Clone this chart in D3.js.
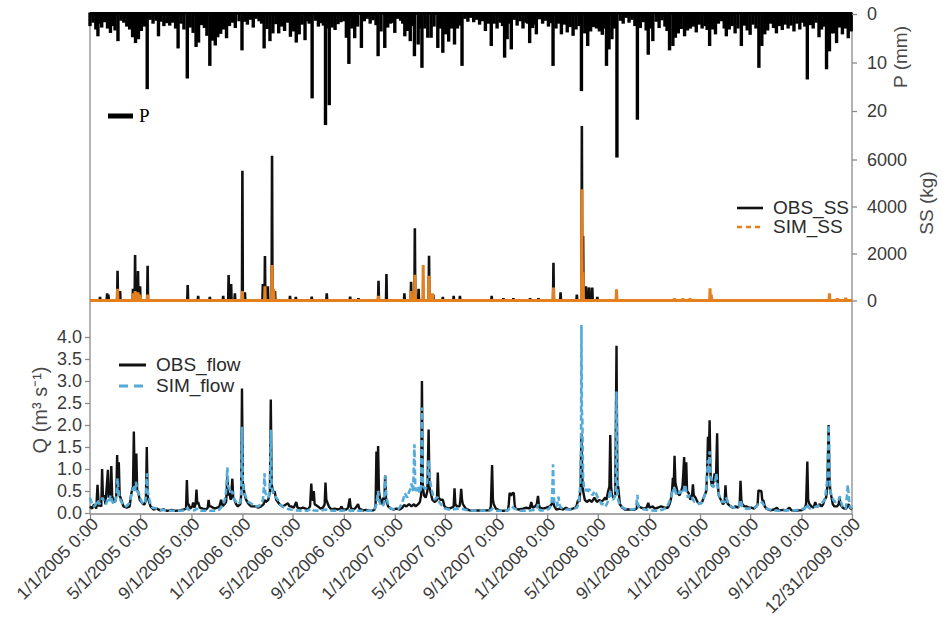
<!DOCTYPE html>
<html>
<head>
	<meta charset="UTF-8"/>
	<title>P, SS and flow 2005-2009</title>
	<style type="text/css">
		body {
		margin: 0;
		background: #fff;
		font-family: 'Liberation Sans', Arial, sans-serif;
		}

		svg {
		display: block;
		}

		.axis path {
		display: none;
		}

		.axis line, line.frame {
		stroke: #8a8a8a;
		stroke-width: 1.3;
		}

		.axis text {
		font-size: 18px;
		fill: #3a3a3a;
		}

		.axis.dates text {
		font-size: 17.5px;
		}

		text.title {
		font-size: 19px;
		fill: #4a4a4a;
		}

		text.legend {
		font-size: 19px;
		fill: #2a2a2a;
		}

		path.series {
		fill: none;
		stroke-linejoin: bevel;
		}
	</style>
	<script src="https://d3js.org/d3.v7.min.js"></script>
</head>
<body>

	<svg width="942" height="618"></svg>

	<script>
		// every series is [day since 1/1/2005, value]

		// rainfall P (mm), bars hanging from the top
		const rain = [[0,2.5],[7,1.8],[14,3.2],[19,4.6],[21,2.0],[28,2.8],[35,1.7],[42,3.0],[49,3.9],[56,2.5],[60,3.4],[67,5.6],[74,1.4],[81,1.8],[88,2.6],[95,3.2],[102,4.8],[109,6.0],[116,5.2],[123,3.5],[130,2.6],[137,15.5],[144,1.2],[151,2.0],[158,1.4],[164,4.6],[170,1.6],[177,2.5],[184,1.9],[191,2.4],[198,1.8],[205,3.0],[211,7.1],[218,2.0],[225,3.2],[233,13.3],[240,2.8],[247,3.9],[254,6.8],[260,5.9],[267,2.3],[274,2.9],[280,4.5],[287,10.7],[293,5.5],[300,6.5],[306,4.8],[313,4.1],[320,3.2],[327,5.0],[334,2.5],[341,1.8],[348,2.9],[357,1.5],[364,7.5],[370,1.6],[377,2.2],[384,1.2],[391,2.8],[398,1.0],[405,1.5],[411,2.0],[417,7.1],[424,3.1],[431,5.6],[438,4.0],[445,2.1],[452,4.0],[459,2.6],[466,3.5],[473,1.8],[480,4.7],[487,3.6],[494,5.9],[501,4.2],[508,2.2],[515,5.4],[520,1.5],[525,2.0],[532,17.4],[540,1.4],[547,2.6],[554,1.9],[559,2.4],[564,22.9],[568,3.0],[573,18.8],[580,2.8],[587,3.3],[594,2.1],[601,1.7],[608,1.5],[614,4.9],[620,10.3],[627,3.0],[634,5.0],[641,2.6],[650,7.0],[657,1.5],[664,1.0],[671,2.0],[678,1.3],[685,2.3],[690,8.7],[697,3.6],[706,7.0],[713,2.8],[720,2.0],[725,1.8],[730,3.9],[737,1.0],[744,1.4],[749,2.0],[754,4.6],[760,3.5],[767,5.6],[772,2.5],[777,8.7],[786,6.3],[790,3.0],[795,11.1],[802,3.0],[809,4.9],[817,4.9],[824,2.6],[833,7.0],[839,3.0],[845,8.0],[852,4.2],[859,5.7],[866,3.0],[873,6.3],[880,3.0],[886,2.4],[891,10.7],[898,1.0],[905,1.6],[912,0.8],[919,1.7],[926,1.2],[933,2.2],[940,1.5],[947,3.5],[954,2.0],[961,6.6],[968,2.0],[975,3.0],[982,1.8],[988,2.5],[993,9.0],[999,5.2],[1004,2.0],[1009,7.3],[1016,1.2],[1023,2.4],[1030,1.5],[1037,3.0],[1044,1.8],[1048,2.0],[1053,6.0],[1060,2.9],[1064,2.2],[1069,4.2],[1077,1.1],[1084,2.0],[1091,1.4],[1098,2.6],[1104,1.9],[1109,10.7],[1116,3.0],[1122,2.0],[1129,4.2],[1136,2.2],[1143,3.8],[1150,2.7],[1157,4.5],[1164,3.2],[1171,2.5],[1177,15.9],[1185,4.0],[1192,6.6],[1199,3.6],[1206,2.7],[1213,3.0],[1220,3.6],[1227,4.3],[1232,3.0],[1237,10.7],[1243,7.3],[1250,5.2],[1256,3.0],[1262,29.6],[1270,1.4],[1277,2.0],[1284,0.8],[1291,1.8],[1298,1.2],[1305,2.5],[1311,21.8],[1318,2.9],[1325,1.7],[1332,3.4],[1337,8.4],[1343,3.0],[1348,5.6],[1356,1.6],[1363,2.9],[1370,1.3],[1377,2.6],[1382,3.5],[1388,7.5],[1396,6.6],[1402,4.9],[1409,4.0],[1416,3.1],[1424,4.6],[1431,3.4],[1438,3.0],[1445,2.6],[1452,3.8],[1459,2.2],[1466,3.0],[1473,2.5],[1478,3.3],[1484,6.6],[1491,3.2],[1498,4.2],[1505,2.0],[1512,1.5],[1519,3.0],[1524,4.6],[1531,3.2],[1538,2.5],[1545,4.0],[1552,3.0],[1560,6.6],[1567,2.4],[1574,3.4],[1581,4.3],[1588,2.2],[1595,3.0],[1602,11.1],[1609,6.6],[1616,4.2],[1623,3.4],[1630,2.0],[1637,2.9],[1644,4.0],[1651,2.5],[1658,3.3],[1665,2.2],[1672,3.0],[1679,2.4],[1686,3.6],[1693,2.0],[1700,3.2],[1707,1.8],[1712,2.6],[1718,13.5],[1725,2.3],[1732,3.0],[1739,1.8],[1746,4.8],[1752,3.2],[1758,2.6],[1764,11.4],[1771,7.7],[1776,4.0],[1781,4.0],[1788,6.0],[1795,2.8],[1802,4.2],[1809,3.0],[1816,5.0],[1823,3.6]];

		// suspended sediment (kg)
		const obsSS = [[0,0],[23,0],[24,150],[25,0],[40,0],[41,300],[42,0],[44,250],[45,0],[65,0],[66,1270],[67,0],[71,0],[72,400],[73,0],[102,0],[103,500],[104,0],[107,0],[108,1940],[109,0],[114,0],[115,1250],[116,0],[119,0],[120,600],[121,0],[137,0],[138,1480],[139,0],[233,0],[234,660],[235,0],[258,0],[259,200],[260,0],[286,0],[287,150],[288,0],[318,0],[319,200],[320,0],[331,0],[332,1085],[333,0],[337,0],[338,700],[339,0],[346,0],[347,300],[348,0],[364,0],[365,5525],[366,0],[370,0],[371,350],[372,0],[413,0],[414,700],[415,0],[418,0],[419,1890],[420,0],[425,0],[426,600],[427,0],[435,0],[436,6160],[437,0],[442,0],[443,400],[444,0],[478,0],[479,200],[480,0],[492,0],[493,150],[494,0],[530,0],[531,160],[532,0],[566,0],[567,300],[568,0],[622,0],[623,160],[624,0],[642,0],[643,100],[644,0],[690,0],[691,840],[692,0],[709,0],[710,1130],[711,0],[752,0],[753,300],[754,0],[768,0],[769,800],[770,0],[777,0],[778,3070],[779,0],[786,0],[787,500],[788,0],[811,0],[812,1900],[813,0],[821,0],[822,250],[823,0],[844,0],[845,150],[846,0],[870,0],[871,200],[872,0],[885,0],[886,200],[887,0],[961,0],[962,200],[963,0],[989,0],[990,100],[991,0],[1013,0],[1014,100],[1015,0],[1053,0],[1054,100],[1055,0],[1073,0],[1074,100],[1075,0],[1109,0],[1110,1610],[1111,0],[1126,0],[1127,350],[1128,0],[1165,0],[1166,250],[1167,0],[1177,0],[1178,7430],[1179,0],[1180,0],[1181,2740],[1182,0],[1187,0],[1188,600],[1189,0],[1194,0],[1195,550],[1196,500],[1197,0],[1202,0],[1203,550],[1204,0],[1214,0],[1215,150],[1216,0],[1825,0]];
		const simSS = [[0,0],[65,0],[66,500],[67,0],[102,0],[103,300],[104,0],[107,0],[108,400],[109,0],[114,0],[115,350],[116,0],[119,0],[120,250],[121,0],[137,0],[138,250],[139,0],[364,0],[365,400],[366,0],[418,0],[419,600],[420,0],[435,0],[436,1510],[437,0],[439,0],[440,500],[441,0],[690,0],[691,200],[692,0],[768,0],[769,400],[770,0],[777,0],[778,1100],[779,0],[797,0],[798,1510],[799,0],[811,0],[812,1050],[813,0],[819,0],[820,300],[821,0],[1109,0],[1110,550],[1111,0],[1177,0],[1178,4730],[1179,0],[1180,0],[1181,1200],[1182,0],[1260,0],[1261,480],[1262,0],[1399,0],[1400,100],[1401,0],[1419,0],[1420,100],[1421,0],[1436,0],[1437,100],[1438,0],[1484,0],[1485,520],[1486,0],[1487,0],[1488,250],[1489,0],[1770,0],[1771,300],[1772,0],[1789,0],[1790,100],[1791,0],[1809,0],[1810,120],[1811,0],[1825,0]];

		// flow Q (m3/s)
		const obsFlow = [[0,0.15],[5,0.1],[10,0.2],[15,0.1],[18,0.64],[21,0.15],[23,0.2],[27,0.15],[29,1.0],[31,0.35],[34,0.4],[37,0.2],[43,0.98],[45,0.35],[47,0.5],[49,0.3],[51,1.07],[53,0.4],[55,0.3],[60,0.25],[63,0.4],[65,1.32],[67,0.6],[69,1.15],[71,0.4],[75,0.3],[80,0.15],[88,0.12],[95,0.15],[99,0.45],[103,0.6],[105,1.85],[107,0.7],[109,0.6],[111,1.35],[113,0.5],[115,0.5],[119,0.3],[123,0.25],[128,0.2],[131,0.2],[134,0.3],[136,1.5],[138,0.4],[140,0.3],[145,0.15],[152,0.08],[160,0.1],[168,0.06],[176,0.08],[185,0.05],[195,0.07],[205,0.05],[215,0.06],[225,0.08],[230,0.1],[232,0.75],[234,0.2],[236,0.2],[240,0.1],[245,0.15],[247,0.24],[250,0.12],[253,0.2],[255,0.53],[257,0.2],[259,0.25],[263,0.12],[270,0.1],[278,0.08],[282,0.12],[284,0.3],[286,0.15],[290,0.15],[298,0.1],[305,0.12],[310,0.15],[314,0.3],[317,0.15],[322,0.2],[326,0.25],[329,0.83],[331,0.4],[334,0.45],[337,0.3],[341,0.78],[343,0.35],[346,0.3],[350,0.2],[354,0.15],[360,0.2],[362,0.4],[364,2.83],[366,0.7],[369,0.5],[372,0.35],[374,0.3],[380,0.2],[386,0.15],[395,0.15],[403,0.12],[410,0.15],[416,0.2],[418,0.3],[421,0.25],[427,0.3],[431,0.5],[433,2.58],[435,0.7],[436,0.6],[439,0.45],[442,0.5],[446,0.3],[454,0.2],[462,0.15],[470,0.2],[474,0.22],[478,0.15],[482,0.15],[488,0.12],[494,0.25],[497,0.12],[504,0.1],[510,0.12],[516,0.1],[522,0.08],[527,0.15],[530,0.67],[532,0.3],[534,0.3],[536,0.5],[538,0.2],[546,0.15],[552,0.1],[558,0.12],[562,0.2],[564,0.69],[566,0.3],[568,0.25],[572,0.15],[578,0.08],[586,0.1],[594,0.08],[600,0.1],[602,0.15],[606,0.08],[614,0.08],[618,0.12],[622,0.33],[624,0.15],[626,0.1],[632,0.08],[638,0.14],[642,0.2],[645,0.1],[654,0.06],[662,0.07],[670,0.05],[678,0.06],[682,0.08],[684,0.2],[686,1.4],[688,0.5],[690,1.52],[692,0.5],[695,0.3],[699,0.2],[702,0.35],[705,0.3],[707,0.85],[709,0.3],[714,0.15],[720,0.1],[726,0.08],[734,0.1],[742,0.08],[748,0.12],[752,0.18],[758,0.15],[764,0.2],[770,0.15],[776,0.2],[780,0.15],[786,0.2],[790,0.25],[793,0.4],[795,3.0],[797,0.6],[800,0.4],[804,0.35],[808,0.5],[811,1.9],[813,0.6],[815,0.5],[820,0.3],[826,0.25],[831,0.3],[833,0.92],[835,0.35],[839,0.3],[845,0.3],[849,0.15],[853,0.12],[860,0.1],[866,0.12],[871,0.15],[873,0.56],[875,0.2],[879,0.15],[885,0.15],[887,0.3],[889,0.55],[891,0.3],[893,0.2],[900,0.1],[909,0.06],[920,0.05],[930,0.06],[940,0.05],[950,0.06],[957,0.06],[960,0.15],[963,1.09],[965,0.3],[967,0.2],[972,0.1],[981,0.06],[990,0.05],[1001,0.06],[1003,0.2],[1005,0.46],[1008,0.4],[1012,0.45],[1015,0.46],[1017,0.2],[1019,0.1],[1027,0.08],[1037,0.1],[1045,0.12],[1053,0.1],[1057,0.25],[1060,0.12],[1066,0.15],[1070,0.2],[1073,0.39],[1075,0.2],[1077,0.12],[1085,0.1],[1093,0.12],[1101,0.15],[1106,0.2],[1109,0.3],[1112,0.15],[1117,0.08],[1125,0.1],[1133,0.08],[1140,0.12],[1148,0.08],[1156,0.1],[1162,0.12],[1165,0.15],[1169,0.3],[1172,0.25],[1175,0.6],[1177,1.8],[1179,0.8],[1181,0.5],[1185,0.3],[1190,0.25],[1196,0.3],[1202,0.25],[1208,0.35],[1214,0.25],[1220,0.3],[1225,0.26],[1230,0.3],[1234,0.35],[1237,0.3],[1241,0.5],[1244,0.6],[1246,1.77],[1248,0.6],[1250,0.4],[1254,0.35],[1258,0.4],[1261,3.8],[1263,0.6],[1265,0.6],[1269,0.2],[1275,0.12],[1281,0.08],[1290,0.08],[1298,0.07],[1305,0.08],[1309,0.1],[1311,0.2],[1315,0.15],[1320,0.12],[1327,0.1],[1333,0.12],[1337,0.23],[1340,0.12],[1348,0.15],[1352,0.1],[1360,0.12],[1368,0.15],[1376,0.12],[1384,0.12],[1388,0.2],[1391,0.3],[1394,0.5],[1396,0.8],[1398,0.6],[1400,1.3],[1402,0.7],[1404,0.6],[1408,0.45],[1412,0.4],[1416,0.5],[1419,0.6],[1421,0.9],[1423,1.27],[1425,0.6],[1428,1.15],[1430,0.5],[1434,0.45],[1438,0.3],[1442,0.4],[1444,0.65],[1446,0.4],[1450,0.35],[1455,0.25],[1460,0.2],[1466,0.25],[1472,0.4],[1476,0.5],[1478,0.9],[1480,1.73],[1482,1.2],[1484,2.11],[1486,0.9],[1488,0.7],[1490,0.6],[1493,0.7],[1496,0.9],[1499,0.7],[1502,1.81],[1504,0.6],[1506,0.4],[1511,0.3],[1516,0.2],[1520,0.25],[1522,0.63],[1524,0.3],[1528,0.2],[1534,0.15],[1540,0.12],[1546,0.15],[1552,0.12],[1556,0.2],[1558,0.73],[1560,0.3],[1562,0.2],[1567,0.15],[1572,0.15],[1578,0.12],[1584,0.12],[1590,0.1],[1596,0.15],[1599,0.2],[1601,0.52],[1604,0.5],[1608,0.5],[1610,0.3],[1613,0.28],[1616,0.15],[1620,0.1],[1630,0.06],[1638,0.08],[1645,0.12],[1650,0.06],[1660,0.07],[1668,0.06],[1675,0.12],[1680,0.06],[1690,0.05],[1698,0.06],[1703,0.06],[1711,0.1],[1715,0.2],[1718,1.17],[1720,0.3],[1723,0.2],[1728,0.15],[1733,0.12],[1737,0.25],[1740,0.15],[1744,0.15],[1747,0.2],[1752,0.15],[1756,0.2],[1759,0.3],[1763,0.35],[1766,0.6],[1769,2.0],[1771,0.8],[1773,0.5],[1775,0.4],[1779,0.2],[1783,0.15],[1789,0.15],[1793,0.2],[1795,0.33],[1797,0.2],[1803,0.12],[1807,0.1],[1811,0.1],[1814,0.15],[1817,0.2],[1820,0.12],[1825,0.08]];
		const simFlow = [[0,0.35],[3,0.25],[6,0.2],[10,0.15],[14,0.2],[18,0.3],[22,0.2],[26,0.25],[30,0.35],[34,0.25],[38,0.2],[42,0.3],[46,0.25],[49,0.4],[52,0.3],[56,0.2],[60,0.25],[63,0.35],[66,0.79],[68,0.5],[71,0.35],[75,0.25],[80,0.2],[86,0.15],[92,0.2],[96,0.25],[100,0.48],[103,0.55],[106,0.6],[108,0.5],[110,0.71],[113,0.5],[116,0.45],[120,0.35],[124,0.25],[128,0.2],[132,0.25],[134,0.4],[136,0.9],[138,0.5],[141,0.35],[145,0.2],[150,0.12],[160,0.1],[170,0.07],[185,0.06],[200,0.05],[215,0.05],[230,0.06],[233,0.12],[236,0.07],[250,0.06],[256,0.1],[260,0.05],[280,0.05],[300,0.05],[310,0.08],[316,0.15],[320,0.2],[324,0.35],[326,0.5],[329,1.04],[331,0.6],[334,0.55],[337,0.45],[340,0.5],[343,0.4],[346,0.3],[350,0.25],[355,0.2],[360,0.25],[362,0.45],[364,1.96],[366,0.65],[368,0.55],[372,0.4],[376,0.3],[380,0.25],[388,0.2],[395,0.15],[403,0.15],[410,0.2],[414,0.3],[416,0.5],[418,0.9],[420,0.45],[424,0.4],[428,0.35],[431,0.6],[433,1.89],[435,0.6],[437,0.5],[440,0.45],[442,0.4],[446,0.35],[450,0.3],[455,0.2],[460,0.15],[470,0.1],[480,0.08],[495,0.06],[510,0.05],[520,0.05],[530,0.1],[535,0.06],[550,0.05],[565,0.08],[580,0.05],[600,0.05],[620,0.06],[640,0.05],[660,0.05],[680,0.05],[686,0.2],[690,0.5],[693,0.25],[698,0.15],[704,0.2],[707,0.85],[710,0.35],[714,0.2],[720,0.1],[730,0.08],[740,0.1],[746,0.2],[750,0.3],[754,0.45],[757,0.4],[760,0.35],[763,0.45],[765,0.5],[768,0.55],[770,0.67],[772,0.55],[774,0.5],[777,1.56],[779,0.6],[781,0.5],[784,0.55],[786,0.6],[788,0.5],[790,0.45],[793,0.6],[795,2.4],[797,0.7],[799,0.6],[802,0.55],[804,0.55],[806,0.6],[808,0.75],[811,1.2],[813,0.8],[815,0.7],[818,0.55],[820,0.45],[823,0.35],[826,0.3],[830,0.35],[833,0.35],[836,0.25],[840,0.2],[845,0.15],[850,0.1],[860,0.08],[870,0.08],[880,0.1],[890,0.1],[900,0.07],[920,0.05],[940,0.05],[960,0.06],[963,0.1],[970,0.05],[1000,0.05],[1006,0.12],[1010,0.15],[1016,0.1],[1030,0.05],[1050,0.05],[1070,0.08],[1073,0.2],[1077,0.06],[1090,0.06],[1100,0.1],[1105,0.2],[1107,0.4],[1109,1.11],[1111,0.35],[1113,0.2],[1118,0.15],[1122,0.37],[1124,0.2],[1128,0.12],[1140,0.08],[1150,0.08],[1160,0.1],[1166,0.12],[1170,0.2],[1174,0.6],[1176,1.5],[1177,4.27],[1178,2.3],[1179,2.2],[1181,0.8],[1183,0.6],[1186,0.5],[1189,0.55],[1192,0.45],[1195,0.55],[1198,0.5],[1201,0.45],[1204,0.4],[1208,0.5],[1212,0.45],[1216,0.35],[1220,0.3],[1225,0.2],[1230,0.2],[1235,0.15],[1240,0.25],[1244,0.4],[1246,0.52],[1248,0.35],[1252,0.3],[1256,0.35],[1259,0.5],[1261,2.76],[1263,0.5],[1265,0.3],[1268,0.2],[1272,0.15],[1280,0.1],[1290,0.08],[1300,0.08],[1305,0.1],[1308,0.15],[1311,0.41],[1313,0.15],[1320,0.1],[1330,0.08],[1345,0.06],[1360,0.05],[1372,0.08],[1380,0.12],[1385,0.2],[1389,0.3],[1392,0.35],[1394,0.45],[1396,0.55],[1398,0.5],[1400,0.6],[1403,0.45],[1406,0.4],[1410,0.45],[1414,0.5],[1417,0.45],[1420,0.45],[1423,0.55],[1425,0.65],[1428,0.5],[1432,0.35],[1436,0.4],[1440,0.4],[1444,0.3],[1448,0.25],[1454,0.25],[1460,0.2],[1466,0.25],[1470,0.35],[1474,0.45],[1476,0.6],[1478,0.9],[1480,1.2],[1482,0.9],[1484,1.4],[1486,0.8],[1488,0.8],[1491,0.6],[1494,0.6],[1497,0.7],[1500,0.9],[1502,0.7],[1504,0.5],[1507,0.4],[1510,0.3],[1515,0.25],[1520,0.25],[1523,0.35],[1526,0.3],[1530,0.2],[1535,0.15],[1545,0.12],[1555,0.15],[1558,0.3],[1562,0.15],[1570,0.1],[1580,0.1],[1590,0.12],[1597,0.15],[1600,0.2],[1605,0.2],[1610,0.25],[1615,0.15],[1620,0.1],[1635,0.06],[1650,0.05],[1670,0.06],[1690,0.06],[1700,0.08],[1710,0.1],[1716,0.15],[1718,0.2],[1721,0.12],[1725,0.1],[1732,0.12],[1740,0.15],[1748,0.18],[1755,0.25],[1760,0.3],[1764,0.6],[1767,0.9],[1769,2.0],[1771,0.9],[1773,0.5],[1776,0.4],[1780,0.3],[1785,0.25],[1790,0.25],[1793,0.3],[1796,0.38],[1799,0.25],[1802,0.15],[1806,0.12],[1810,0.1],[1812,0.3],[1815,0.64],[1817,0.4],[1819,0.2],[1822,0.12],[1825,0.1]];

		// axis ticks
		const dateTicks = ['2005-01-01','2005-05-01','2005-09-01','2006-01-01','2006-05-01','2006-09-01','2007-01-01','2007-05-01','2007-09-01','2008-01-01','2008-05-01','2008-09-01','2009-01-01','2009-05-01','2009-09-01','2009-12-31'];
		const pTicks = [0, 10, 20];
		const ssTicks = [0, 2000, 4000, 6000];
		const qTicks = [0, 0.5, 1.0, 1.5, 2.0, 2.5, 3.0, 3.5, 4.0];

		const obsColor = '#111';
		const ssColor = '#e5801f';
		const flowColor = '#55abd8';

		const svg = d3.select('svg');
		const plotLeft = 90, plotRight = 852, plotTop = 13, plotBottom = 514;

		const parse = d3.timeParse('%Y-%m-%d');
		const day0 = parse('2005-01-01');
		const toDate = d => d3.timeDay.offset(day0, d);

		const x = d3.scaleTime()
			.domain([day0, parse('2009-12-31')])
			.range([plotLeft, plotRight]);
		const yP = d3.scaleLinear().domain([0, 30]).range([14, 159.5]);
		const ySS = d3.scaleLinear().domain([0, 6000]).range([300.5, 159.5]);
		const yQ = d3.scaleLinear().domain([0, 4]).range([513, 337]);

		// frame
		svg.append('line').attr('class', 'frame')
			.attr('x1', plotLeft).attr('x2', plotLeft).attr('y1', plotTop).attr('y2', plotBottom);
		svg.append('line').attr('class', 'frame')
			.attr('x1', plotRight).attr('x2', plotRight).attr('y1', plotTop).attr('y2', plotBottom);
		svg.append('line').attr('class', 'frame')
			.attr('x1', plotLeft).attr('x2', plotRight).attr('y1', plotBottom).attr('y2', plotBottom);

		/* rainfall bars from the top */
		svg.append('g')
			.selectAll('line')
			.data(rain)
			.join('line')
			.attr('x1', d => x(toDate(d[0])))
			.attr('x2', d => x(toDate(d[0])))
			.attr('y1', yP(0) - 1.5)
			.attr('y2', d => yP(d[1]))
			.attr('stroke', '#000')
			.attr('stroke-width', 3.4);

		svg.append('line')
			.attr('x1', plotLeft).attr('x2', plotRight)
			.attr('y1', yP(0) - 0.5).attr('y2', yP(0) - 0.5)
			.attr('stroke', '#000').attr('stroke-width', 3);

		/* sediment lines */
		const ssLine = d3.line().x(d => x(toDate(d[0]))).y(d => ySS(d[1]));
		svg.append('path').attr('class', 'series')
			.attr('d', ssLine(obsSS))
			.attr('stroke', obsColor).attr('stroke-width', 2.6);
		svg.append('path').attr('class', 'series')
			.attr('d', ssLine(simSS))
			.attr('stroke', ssColor).attr('stroke-width', 3);

		/* flow lines */
		const qLine = d3.line().x(d => x(toDate(d[0]))).y(d => yQ(d[1]));
		svg.append('path').attr('class', 'series')
			.attr('d', qLine(obsFlow))
			.attr('stroke', obsColor).attr('stroke-width', 2.4);
		svg.append('path').attr('class', 'series')
			.attr('d', qLine(simFlow))
			.attr('stroke', flowColor).attr('stroke-width', 2.6)
			.attr('stroke-dasharray', '6,3');

		/* axes */
		svg.append('g').attr('class', 'axis')
			.attr('transform', `translate(${plotRight},0)`)
			.call(d3.axisRight(yP).tickValues(pTicks).tickSize(5).tickPadding(10));
		svg.append('g').attr('class', 'axis')
			.attr('transform', `translate(${plotRight},0)`)
			.call(d3.axisRight(ySS).tickValues(ssTicks).tickSize(5).tickPadding(10)
				.tickFormat(d3.format('d')));
		svg.append('g').attr('class', 'axis')
			.attr('transform', `translate(${plotLeft},0)`)
			.call(d3.axisLeft(yQ).tickValues(qTicks).tickSize(5).tickPadding(3)
				.tickFormat(d3.format('.1f')));

		const fmt = d3.timeFormat('%-m/%-d/%Y %-H:%M');
		svg.append('g').attr('class', 'axis dates')
			.attr('transform', `translate(0,${plotBottom})`)
			.call(d3.axisBottom(x).tickValues(dateTicks.map(parse)).tickSize(5).tickFormat(fmt))
			.selectAll('text')
			.attr('x', 0).attr('y', 0).attr('dy', 0)
			.attr('transform', 'translate(9,11) rotate(-45)')
			.style('text-anchor', 'end');

		/* axis titles */
		svg.append('text').attr('class', 'title')
			.attr('transform', 'translate(47,410) rotate(-90)')
			.attr('text-anchor', 'middle')
			.style('font-size', '20px')
			.text('Q (m³ s⁻¹)');
		svg.append('text').attr('class', 'title')
			.attr('transform', 'translate(907,57) rotate(-90)')
			.attr('text-anchor', 'middle')
			.text('P (mm)');
		svg.append('text').attr('class', 'title')
			.attr('transform', 'translate(933,203) rotate(-90)')
			.attr('text-anchor', 'middle')
			.text('SS (kg)');

		/* legends */
		svg.append('line')
			.attr('x1', 108).attr('x2', 133).attr('y1', 116).attr('y2', 116)
			.attr('stroke', '#000').attr('stroke-width', 5);
		svg.append('text')
			.attr('x', 139).attr('y', 122)
			.style('font-family', "'Liberation Serif', 'DejaVu Serif', serif")
			.style('font-size', '19px')
			.text('P');

		const legendSS = [
			{name: 'OBS_SS', color: obsColor, dash: null, y: 208},
			{name: 'SIM_SS', color: ssColor, dash: '5,4', y: 227}
		];
		legendSS.forEach(l => {
			svg.append('line')
				.attr('x1', 737).attr('x2', 763).attr('y1', l.y).attr('y2', l.y)
				.attr('stroke', l.color).attr('stroke-width', 2.6)
				.attr('stroke-dasharray', l.dash);
			svg.append('text').attr('class', 'legend')
				.attr('x', 773).attr('y', l.y + 6)
				.text(l.name);
		});

		const legendFlow = [
			{name: 'OBS_flow', color: obsColor, dash: null, y: 365},
			{name: 'SIM_flow', color: flowColor, dash: '9,6', y: 386}
		];
		legendFlow.forEach(l => {
			svg.append('line')
				.attr('x1', 119).attr('x2', 146).attr('y1', l.y).attr('y2', l.y)
				.attr('stroke', l.color).attr('stroke-width', 3)
				.attr('stroke-dasharray', l.dash);
			svg.append('text').attr('class', 'legend')
				.attr('x', 156).attr('y', l.y + 6)
				.text(l.name);
		});
	</script>
</body>
</html>
